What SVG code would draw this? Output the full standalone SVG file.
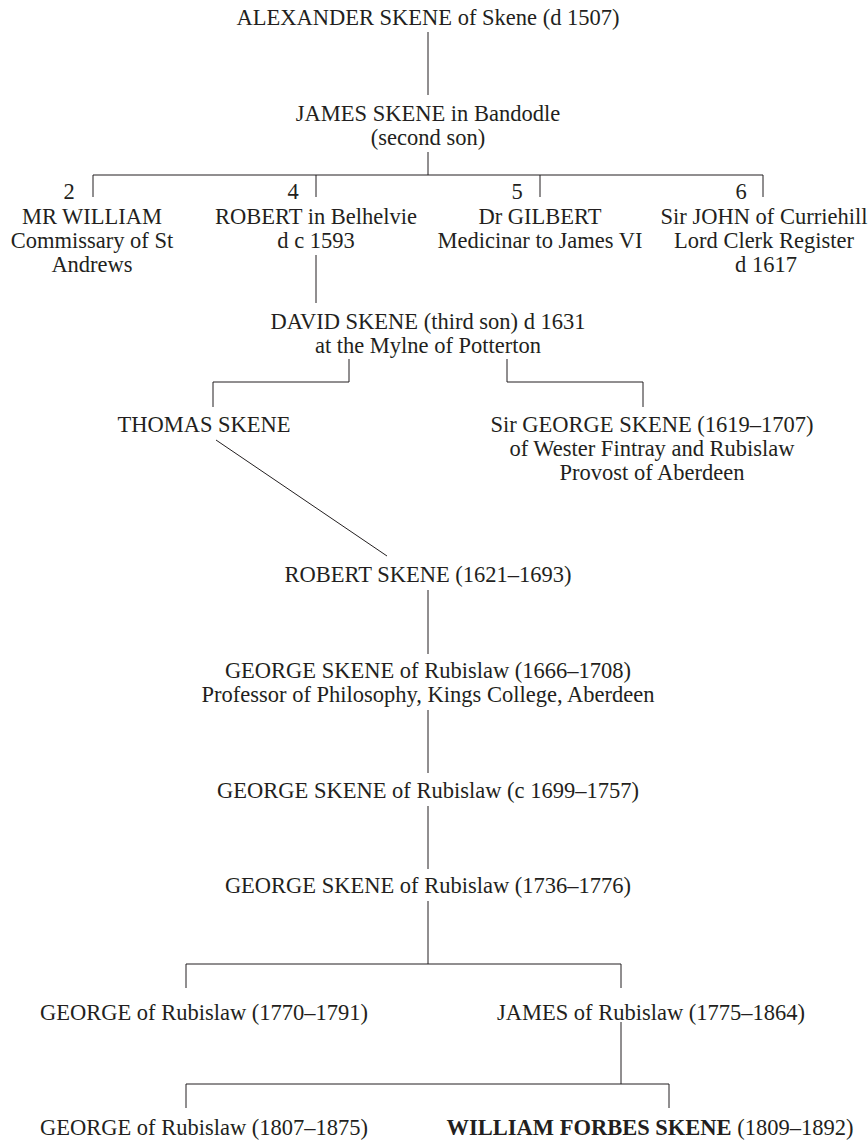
<svg xmlns="http://www.w3.org/2000/svg" width="868" height="1140" viewBox="0 0 868 1140">
<style>
text{font-family:"Liberation Serif","Times New Roman",serif;font-size:22.5px;fill:#231f20;text-anchor:middle}
.b{font-weight:bold}
#connectors path{fill:none;stroke:#231f20;stroke-width:1}
</style>
<rect width="868" height="1140" fill="#fff"/>
<g id="connectors">
<path d="M428 32V95"/>
<path d="M428 152V175M93 197V175H763V197M316 175V197M540 175V197"/>
<path d="M316 255V303"/>
<path d="M349 359V382H213V407M507 359V382H643V407"/>
<path d="M216 440L387 556"/>
<path d="M428 590V654"/>
<path d="M428 710V773"/>
<path d="M428 806V869"/>
<path d="M428 901V964M186 988V964H621V988"/>
<path d="M621 1022V1084M186 1108V1084H669V1108"/>
</g>
<g id="alexander"><text x="428" y="25">ALEXANDER SKENE of Skene (d 1507)</text></g>
<g id="james"><text x="428" y="121">JAMES SKENE in Bandodle</text><text x="428" y="145">(second son)</text></g>
<g id="william"><text x="69" y="199">2</text><text x="92" y="224">MR WILLIAM</text><text x="92" y="248">Commissary of St</text><text x="92" y="272">Andrews</text></g>
<g id="robert-belhelvie"><text x="293" y="199">4</text><text x="316" y="224">ROBERT in Belhelvie</text><text x="316" y="248">d c 1593</text></g>
<g id="gilbert"><text x="517" y="199">5</text><text x="540" y="224">Dr GILBERT</text><text x="540" y="248">Medicinar to James VI</text></g>
<g id="john"><text x="741" y="199">6</text><text x="764" y="224">Sir JOHN of Curriehill</text><text x="764" y="248">Lord Clerk Register</text><text x="766" y="272">d 1617</text></g>
<g id="david"><text x="428" y="329">DAVID SKENE (third son) d 1631</text><text x="428" y="353">at the Mylne of Potterton</text></g>
<g id="thomas"><text x="204" y="432">THOMAS SKENE</text></g>
<g id="sir-george"><text x="652" y="432">Sir GEORGE SKENE (1619–1707)</text><text x="652" y="456">of Wester Fintray and Rubislaw</text><text x="652" y="480">Provost of Aberdeen</text></g>
<g id="robert-skene"><text x="428" y="582">ROBERT SKENE (1621–1693)</text></g>
<g id="george-1666"><text x="428" y="678">GEORGE SKENE of Rubislaw (1666–1708)</text><text x="428" y="702">Professor of Philosophy, Kings College, Aberdeen</text></g>
<g id="george-1699"><text x="428" y="798">GEORGE SKENE of Rubislaw (c 1699–1757)</text></g>
<g id="george-1736"><text x="428" y="893">GEORGE SKENE of Rubislaw (1736–1776)</text></g>
<g id="george-1770"><text x="204" y="1020">GEORGE of Rubislaw (1770–1791)</text></g>
<g id="james-1775"><text x="651" y="1020">JAMES of Rubislaw (1775–1864)</text></g>
<g id="george-1807"><text x="204" y="1135">GEORGE of Rubislaw (1807–1875)</text></g>
<g id="william-forbes"><text x="650" y="1135"><tspan class="b">WILLIAM FORBES SKENE</tspan> (1809–1892)</text></g>
</svg>
